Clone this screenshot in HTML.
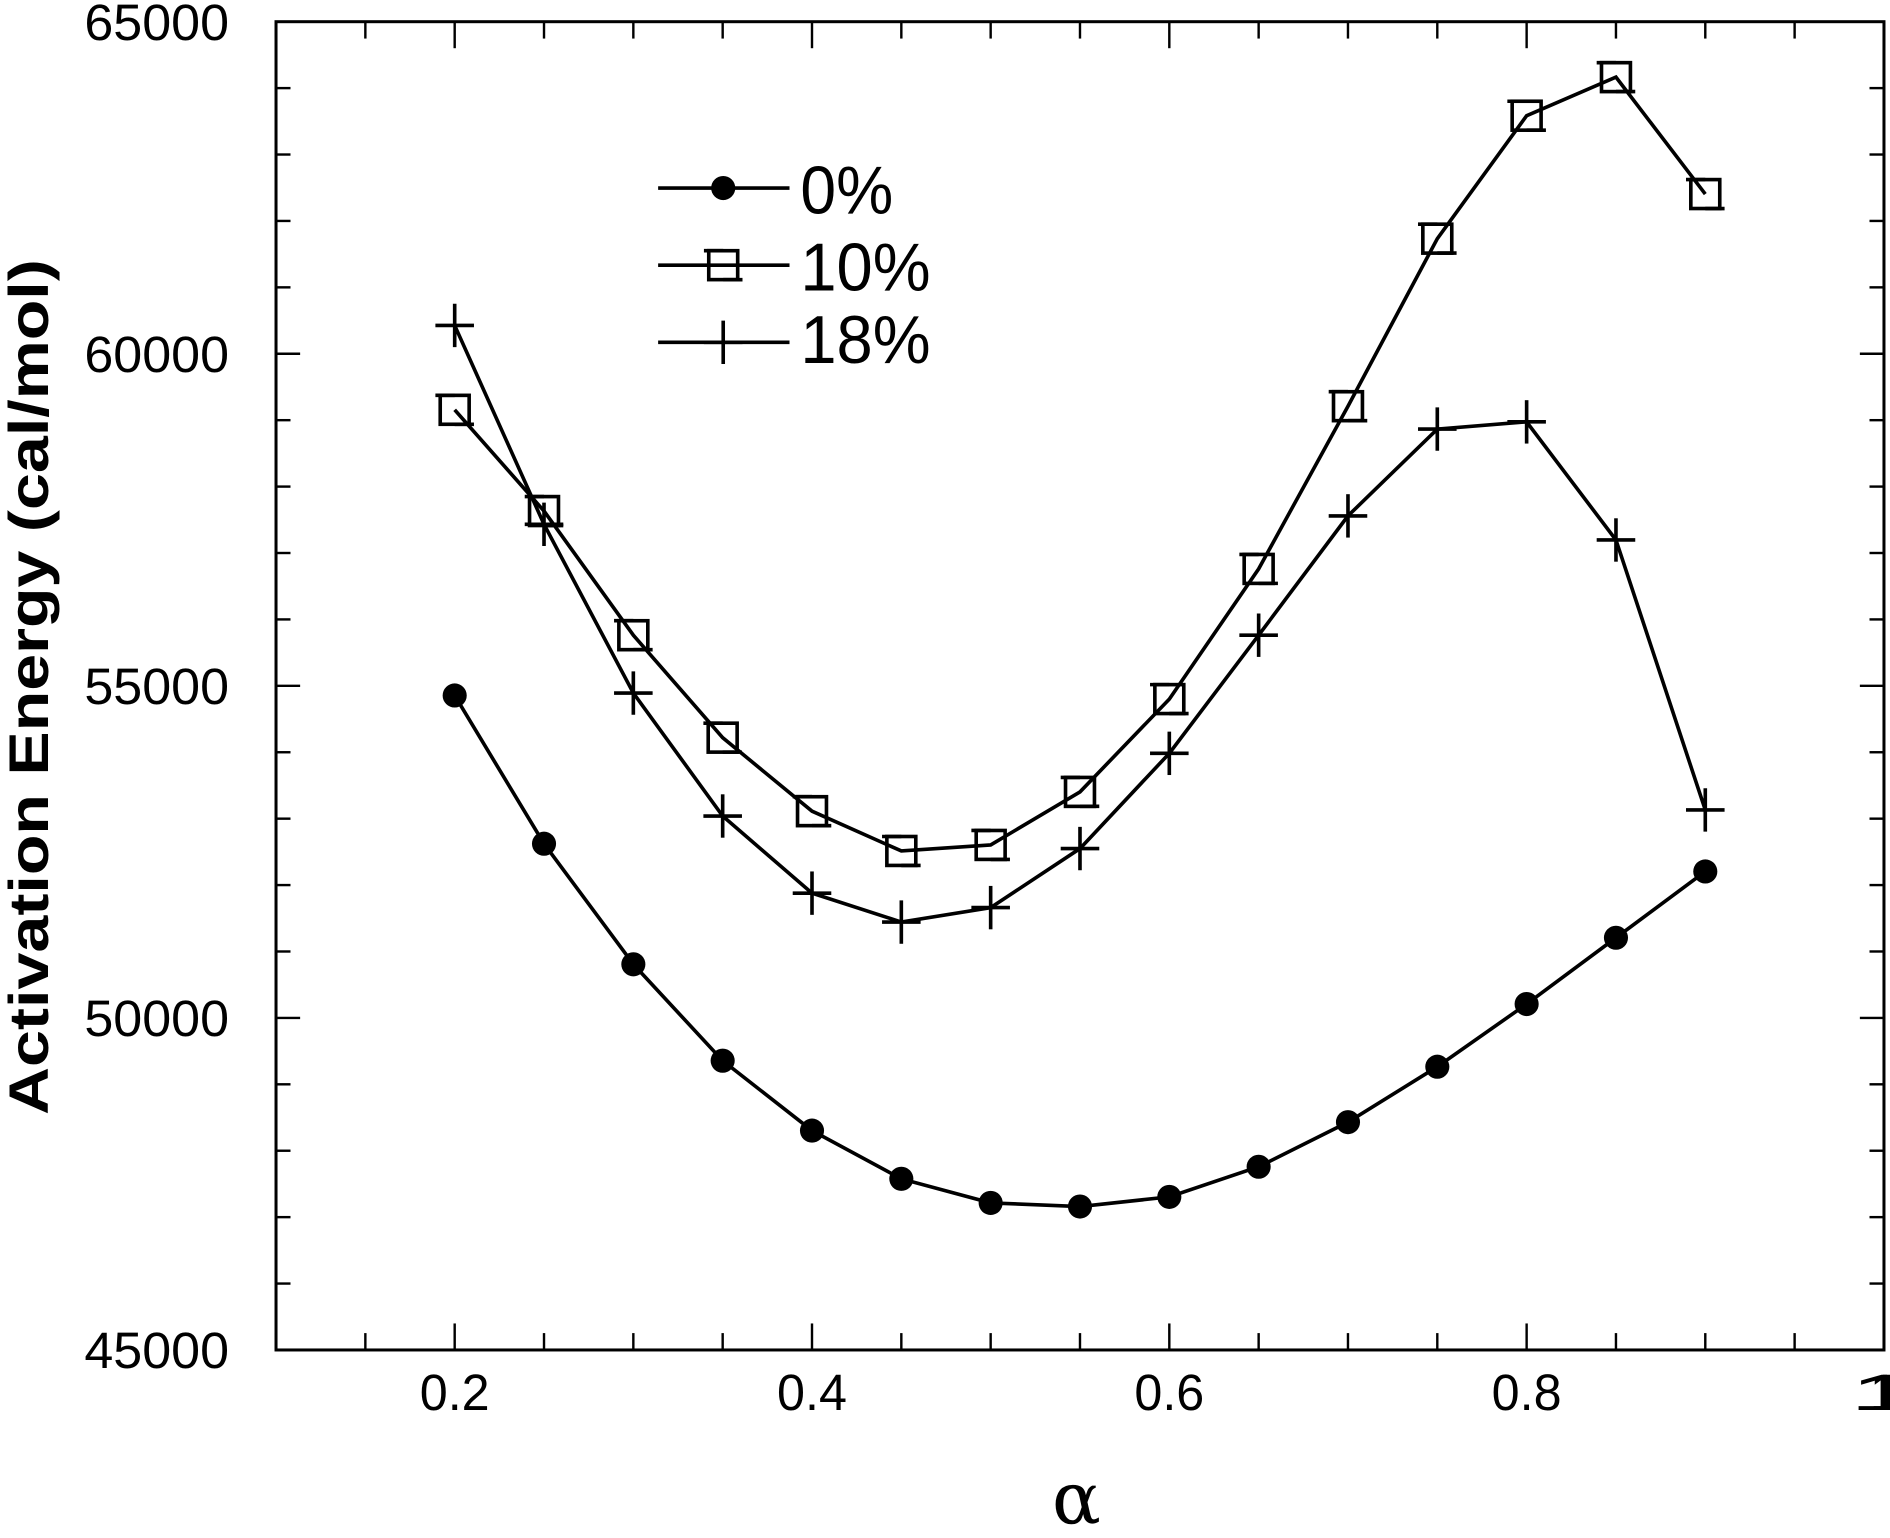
<!DOCTYPE html>
<html><head><meta charset="utf-8"><style>html,body{margin:0;padding:0;background:#fff}svg{display:block}</style></head>
<body>
<svg width="1890" height="1538" viewBox="0 0 1568 1276" preserveAspectRatio="none" xmlns="http://www.w3.org/2000/svg" font-family="Liberation Sans, Arial, sans-serif">
<defs>
<g id="sq"><rect x="-12" y="-12" width="24" height="24" fill="none" stroke="#000" stroke-width="3"/><line x1="-16" y1="-12" x2="0" y2="-12" stroke="#000" stroke-width="3"/><line x1="0" y1="12" x2="16" y2="12" stroke="#000" stroke-width="3"/></g>
<g id="pl"><line x1="-16" y1="0" x2="16" y2="0" stroke="#000" stroke-width="3"/><line x1="0" y1="-18" x2="0" y2="18" stroke="#000" stroke-width="3"/></g>
<g id="ci"><circle r="10" fill="#000"/></g>
</defs>
<g id="axes" stroke="#000" fill="none">
<rect x="229" y="18" width="1334" height="1102" stroke-width="2.5"/>
</g>
<g id="ticks" stroke="#000" stroke-width="2"></g>
<g id="lab" font-size="42" fill="#000"></g>
<g id="series"></g>
<text x="893" y="1264" font-size="60" text-anchor="middle" font-family="DejaVu Serif, serif">α</text>
<text transform="translate(40,570) rotate(-90)" font-size="46" font-weight="bold" text-anchor="middle" textLength="710" lengthAdjust="spacingAndGlyphs">Activation Energy (cal/mol)</text>
<g stroke="#000" stroke-width="3">
<line x1="546" y1="156" x2="655" y2="156"/><line x1="546" y1="220" x2="655" y2="220"/><line x1="546" y1="284" x2="655" y2="284"/>
</g>
<use href="#ci" x="600" y="156"/><use href="#sq" x="600" y="220"/><use href="#pl" x="600" y="284"/>
<g font-size="56" fill="#000">
<text x="664" y="177" textLength="77" lengthAdjust="spacingAndGlyphs">0%</text><text x="664" y="241" textLength="108" lengthAdjust="spacingAndGlyphs">10%</text><text x="664" y="301" textLength="108" lengthAdjust="spacingAndGlyphs">18%</text>
</g>
<script>
const NS="http://www.w3.org/2000/svg";
function el(p,t,a,txt){const e=document.createElementNS(NS,t);for(const k in a)e.setAttribute(k,a[k]);if(txt!==undefined)e.textContent=txt;p.appendChild(e);return e;}
const X=a=>229+(a-0.1)*1482.2, Y=v=>18+(65000-v)/20000*1102;
const tk=document.getElementById('ticks'), lb=document.getElementById('lab');
for(let i=0;i<=18;i++){const a=0.1+i*0.05,x=X(a),maj=(i%4==2);const L=maj?22:14;
 el(tk,'line',{x1:x,y1:1120,x2:x,y2:1120-L});el(tk,'line',{x1:x,y1:18,x2:x,y2:18+L});
 if(maj)el(lb,'text',{x:x,y:1170,'text-anchor':'middle',textLength:58,lengthAdjust:'spacingAndGlyphs'},(Math.round(a*10)/10).toString());}
el(lb,'text',{x:1563,y:1170,'text-anchor':'middle'},'1');
for(let v=45000;v<=65000;v+=1000){const y=Y(v),maj=v%5000==0,L=maj?20:12;
 el(tk,'line',{x1:229,y1:y,x2:229+L,y2:y});el(tk,'line',{x1:1563,y1:y,x2:1563-L,y2:y});
 if(maj)el(lb,'text',{x:190,y:y+15,'text-anchor':'end',textLength:120,lengthAdjust:'spacingAndGlyphs'},String(v));}
const xs=[0.2,0.25,0.3,0.35,0.4,0.45,0.5,0.55,0.6,0.65,0.7,0.75,0.8,0.85,0.9];
const d={ci:[577,700,800,880,938,978,998,1001,993,968,931,885,833,778,723],
 sq:[340,424,527,612,673,706,701,657,580,472,337,198,96,64,161],
 pl:[270,435,575,677,741,765,753,704,625,527,428,356,350,448,672]};
const sg=document.getElementById('series');
for(const k in d){el(sg,'polyline',{points:xs.map((a,i)=>X(a)+','+d[k][i]).join(' '),fill:'none',stroke:'#000','stroke-width':3});
 xs.forEach((a,i)=>el(sg,'use',{href:'#'+k,x:X(a),y:d[k][i]}));}
</script>
</svg>
</body></html>
